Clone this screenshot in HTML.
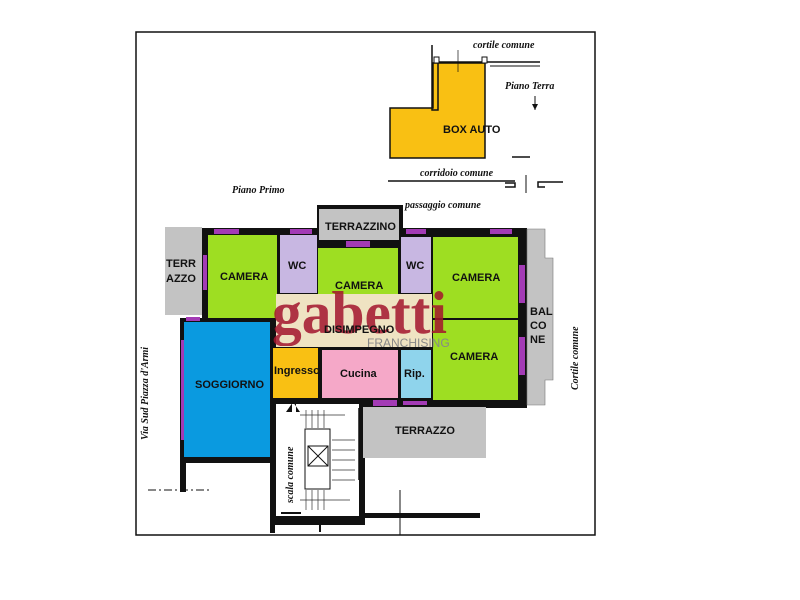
<!DOCTYPE html>
<html><head><meta charset="utf-8"><style>
html,body{margin:0;padding:0;background:#fff}
svg{display:block}
.b{font-family:"Liberation Sans",sans-serif;font-weight:bold;font-size:11px;fill:#111}
.h{font-family:"Liberation Serif",serif;font-style:italic;font-weight:bold;font-size:10px;fill:#111}
</style></head><body>
<svg width="800" height="600" viewBox="0 0 800 600" xmlns="http://www.w3.org/2000/svg">
<rect x="136" y="32" width="459" height="503" fill="none" stroke="#111" stroke-width="1.5"/>
<polygon points="433,63 485,63 485,158 390,158 390,108 433,108" fill="#f9c013" stroke="#111" stroke-width="1.5"/>
<polyline points="432,45 432,110 438,110 438,62 490,62" fill="none" stroke="#111" stroke-width="1.5"/>
<rect x="434" y="57" width="5" height="6" fill="#fff" stroke="#111"/>
<rect x="482" y="57" width="5" height="6" fill="#fff" stroke="#111"/>
<line x1="490" y1="62" x2="540" y2="62" stroke="#111" stroke-width="1.5"/>
<line x1="490" y1="66" x2="540" y2="66" stroke="#111" stroke-width="1"/>
<line x1="458" y1="50" x2="458" y2="72" stroke="#111" stroke-width="0.7"/>
<text x="443" y="133" class="b" font-size="11">BOX AUTO</text>
<text x="473" y="48" class="h">cortile comune</text>
<text x="505" y="89" class="h" font-size="11">Piano Terra</text>
<line x1="535" y1="96" x2="535" y2="110" stroke="#111"/><polygon points="532,104 538,104 535,110" fill="#111"/>
<line x1="512" y1="157" x2="530" y2="157" stroke="#111" stroke-width="1.5"/>
<text x="420" y="176" class="h">corridoio comune</text>
<line x1="388" y1="181" x2="515" y2="181" stroke="#111" stroke-width="1.5"/>
<polyline points="505,183 515,183 515,187 505,187" fill="none" stroke="#111" stroke-width="1.5"/>
<line x1="526" y1="175" x2="526" y2="193" stroke="#111"/>
<polyline points="548,182 538,182 538,187 545,187" fill="none" stroke="#111" stroke-width="1.5"/>
<line x1="548" y1="182" x2="563" y2="182" stroke="#111" stroke-width="1.5"/>
<text x="232" y="193" class="h" font-size="12">Piano Primo</text>
<text x="405" y="208" class="h">passaggio comune</text>
<rect x="202" y="228" width="325" height="180" fill="#111"/>
<rect x="180" y="318" width="100" height="145" fill="#111"/>
<rect x="180" y="460" width="6" height="32" fill="#111"/>
<rect x="270" y="400" width="95" height="125" fill="#111"/>
<rect x="317" y="205" width="86" height="35" fill="#111"/>
<rect x="165" y="227" width="37" height="88" fill="#c3c3c3"/>
<text x="166" y="267" class="b">TERR</text><text x="166" y="282" class="b">AZZO</text>
<rect x="208" y="235" width="69" height="83" fill="#9ede22"/>
<text x="220" y="280" class="b">CAMERA</text>
<rect x="280" y="235" width="37" height="58" fill="#c8b7e2"/>
<text x="288" y="269" class="b">WC</text>
<rect x="319" y="209" width="80" height="31" fill="#c3c3c3"/>
<text x="325" y="230" class="b">TERRAZZINO</text>
<rect x="318" y="248" width="80" height="72" fill="#9ede22"/>
<text x="335" y="289" class="b">CAMERA</text>
<rect x="401" y="237" width="30" height="56" fill="#c8b7e2"/>
<text x="406" y="269" class="b">WC</text>
<rect x="433" y="237" width="85" height="81" fill="#9ede22"/>
<text x="452" y="281" class="b">CAMERA</text>
<rect x="433" y="320" width="85" height="80" fill="#9ede22"/>
<text x="450" y="360" class="b">CAMERA</text>
<polygon points="527,229 545,229 545,258 553,258 553,380 545,380 545,405 527,405" fill="#c3c3c3" stroke="#777" stroke-width="0.6"/>
<text x="530" y="315" class="b">BAL</text><text x="530" y="329" class="b">CO</text><text x="530" y="343" class="b">NE</text>
<rect x="276" y="294" width="156" height="53" fill="#efe3c2"/>
<rect x="273" y="348" width="45" height="50" fill="#f9c013"/>
<text x="274" y="374" class="b" font-size="10.5">Ingresso</text>
<rect x="322" y="350" width="76" height="48" fill="#f5a8c8"/>
<text x="340" y="377" class="b">Cucina</text>
<rect x="401" y="350" width="30" height="48" fill="#8fd4ec"/>
<text x="404" y="377" class="b">Rip.</text>
<rect x="184" y="322" width="86" height="135" fill="#0a9ae0"/>
<text x="195" y="388" class="b">SOGGIORNO</text>
<rect x="363" y="407" width="123" height="51" fill="#c3c3c3"/>
<text x="395" y="434" class="b">TERRAZZO</text>
<g fill="#a33bb5">
<rect x="214" y="229" width="25" height="5"/><rect x="290" y="229" width="22" height="5"/>
<rect x="346" y="241" width="24" height="6"/><rect x="406" y="229" width="20" height="5"/>
<rect x="490" y="229" width="22" height="5"/><rect x="203" y="255" width="4" height="35"/>
<rect x="519" y="265" width="6" height="38"/><rect x="519" y="337" width="6" height="38"/>
<rect x="181" y="340" width="3" height="100"/><rect x="373" y="400" width="24" height="6"/>
<rect x="403" y="401" width="24" height="4"/><rect x="186" y="317" width="14" height="4"/>
</g>
<rect x="276" y="404" width="83" height="112" fill="#fff"/>
<rect x="305" y="429" width="25" height="60" fill="#fff" stroke="#111"/>
<rect x="308" y="446" width="20" height="20" fill="none" stroke="#111"/>
<line x1="308" y1="446" x2="328" y2="466" stroke="#111"/><line x1="328" y1="446" x2="308" y2="466" stroke="#111"/>
<g stroke="#333" stroke-width="0.7">
<line x1="306" y1="410" x2="306" y2="428"/><line x1="312" y1="410" x2="312" y2="428"/><line x1="318" y1="410" x2="318" y2="428"/><line x1="324" y1="410" x2="324" y2="428"/>
<line x1="332" y1="440" x2="355" y2="440"/><line x1="332" y1="450" x2="355" y2="450"/><line x1="332" y1="460" x2="355" y2="460"/><line x1="332" y1="470" x2="355" y2="470"/><line x1="332" y1="480" x2="355" y2="480"/>
<line x1="306" y1="490" x2="306" y2="510"/><line x1="312" y1="490" x2="312" y2="510"/><line x1="318" y1="490" x2="318" y2="510"/><line x1="324" y1="490" x2="324" y2="510"/>
<line x1="300" y1="500" x2="350" y2="500"/><line x1="300" y1="415" x2="345" y2="415"/>
</g>
<line x1="359" y1="408" x2="359" y2="480" stroke="#111" stroke-width="1.5"/>
<polygon points="286,412 292,412 292,404 296,404 296,412 300,412 293,402" fill="#111"/>
<line x1="281" y1="513" x2="301" y2="513" stroke="#111" stroke-width="2"/>
<rect x="270" y="515" width="5" height="18" fill="#111"/>
<line x1="320" y1="520" x2="320" y2="532" stroke="#111" stroke-width="2"/>
<rect x="360" y="513" width="120" height="5" fill="#111"/>
<line x1="400" y1="490" x2="400" y2="535" stroke="#111"/>
<line x1="148" y1="490" x2="210" y2="490" stroke="#111" stroke-dasharray="8,3,2,3"/>
<text class="h" font-size="12" transform="translate(293,503) rotate(-90)">scala comune</text>
<text class="h" font-size="11" transform="translate(148,440) rotate(-90)">Via Sud Piazza d'Armi</text>
<text class="h" font-size="11" transform="translate(578,390) rotate(-90)">Cortile comune</text>
<text x="272" y="333" font-family="Liberation Serif,serif" font-weight="bold" font-size="60" fill="#a3152d" opacity="0.85" textLength="175" lengthAdjust="spacingAndGlyphs">gabetti</text>
<text x="324" y="333" class="b" font-size="11">DISIMPEGNO</text>
<text x="367" y="347" font-family="Liberation Sans,sans-serif" font-size="12" fill="#888">FRANCHISING</text>
</svg>
</body></html>
